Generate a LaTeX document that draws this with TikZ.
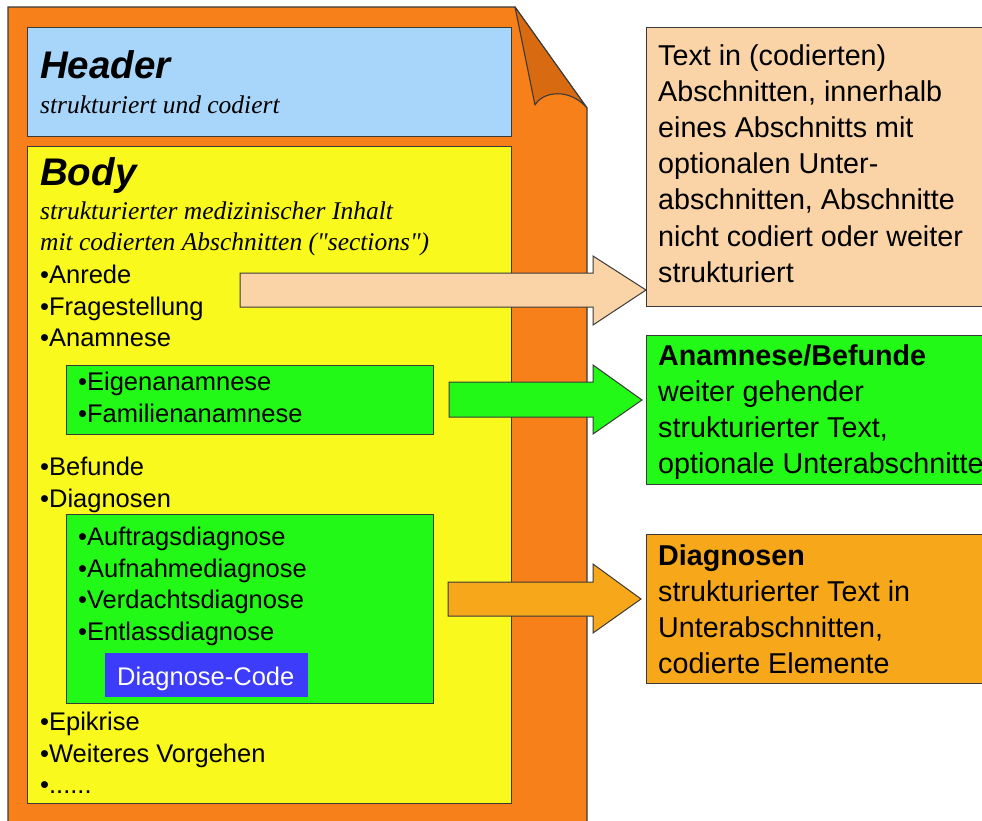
\documentclass[tikz,border=0pt]{standalone}
\usepackage{fontspec}
\setmainfont{Liberation Sans}
\newfontfamily\serifit{Liberation Serif}[UprightFont=*-Italic]
\definecolor{pageorange}{HTML}{F7801A}
\definecolor{flaporange}{HTML}{D86A12}
\definecolor{headblue}{HTML}{A8D5FA}
\definecolor{bodyyellow}{HTML}{F9F91E}
\definecolor{secgreen}{HTML}{22F916}
\definecolor{peach}{HTML}{FAD3A6}
\definecolor{diagorange}{HTML}{F7A81A}
\definecolor{codeblue}{HTML}{3C3CFA}
\definecolor{edge}{HTML}{3A3A3A}
\begin{document}
\begin{tikzpicture}[x=1pt,y=-1pt,
  outline/.style={draw=edge, line width=1.1pt},
  panel/.style={outline, anchor=north west, inner sep=0pt},
  title/.style={anchor=base west, inner sep=0pt, font=\fontsize{38.5}{42}\selectfont\bfseries\itshape},
  note/.style={anchor=base west, inner sep=0pt, font=\fontsize{25.5}{32}\selectfont\serifit},
  item/.style={anchor=base west, inner sep=0pt, font=\fontsize{25.5}{32}\selectfont},
  desc/.style={anchor=base west, inner sep=0pt, font=\fontsize{28.7}{36.2}\selectfont},
  blockarrow/.style={outline, line width=1pt, line join=miter}]
\useasboundingbox (0,0) rectangle (982,820);
\clip (0,0) rectangle (982,820);

% document page with dog-ear
\path[outline, fill=pageorange] (8,7) -- (515,7) -- (587,108) -- (587,840) -- (8,840) -- cycle;
\path[outline, fill=flaporange, line join=round] (515,7) -- (535,105)
  .. controls (543,91) and (570,88) .. (587,108) -- cycle;

% header and body sections
\node[panel, fill=headblue, minimum width=484pt, minimum height=109pt] (header) at (27,27) {};
\node[title] (headertitle) at (40,78) {Header};
\node[note] (headernote) at (40,113) {strukturiert und codiert};

\node[panel, fill=bodyyellow, minimum width=484pt, minimum height=657pt] (body) at (27,146) {};
\node[title] (bodytitle) at (40,185) {Body};
\node[note] (bodynote1) at (40,219) {strukturierter medizinischer Inhalt};
\node[note] (bodynote2) at (40,250) {mit codierten Abschnitten ("sections")};

\node[item] (anrede) at (40,283) {•Anrede};
\node[item] (frage) at (40,315) {•Fragestellung};
\node[item] (anamnese) at (40,346) {•Anamnese};

\node[panel, fill=secgreen, minimum width=367pt, minimum height=69pt] (anabox) at (66,365) {};
\node[item] (eigen) at (78,390) {•Eigenanamnese};
\node[item] (familie) at (78,422) {•Familienanamnese};

\node[item] (befunde) at (40,475) {•Befunde};
\node[item] (diagnosen) at (40,507) {•Diagnosen};

\node[panel, fill=secgreen, minimum width=367pt, minimum height=189pt] (diagbox) at (66,514) {};
\node[item] (auftrag) at (78,545) {•Auftragsdiagnose};
\node[item] (aufnahme) at (78,577) {•Aufnahmediagnose};
\node[item] (verdacht) at (78,608) {•Verdachtsdiagnose};
\node[item] (entlass) at (78,640) {•Entlassdiagnose};
\node[fill=codeblue, minimum width=203pt, minimum height=44pt, inner sep=0pt,
  anchor=north west] (code) at (105,653) {};
\node[item, text=white] (codetext) at (117,685) {Diagnose-Code};

\node[item] (epikrise) at (40,730) {•Epikrise};
\node[item] (weiteres) at (40,762) {•Weiteres Vorgehen};
\node[item] (etc) at (40,793) {•......};

% block arrows into the description boxes
\path[blockarrow, fill=peach] (240,273) -- (593,273) -- (593,256) -- (646,290)
  -- (593,325) -- (593,307) -- (240,307) -- cycle;
\path[blockarrow, fill=secgreen] (449,382) -- (593,382) -- (593,365) -- (642,400)
  -- (593,434) -- (593,417) -- (449,417) -- cycle;
\path[blockarrow, fill=diagorange] (448,582) -- (593,582) -- (593,564) -- (641,599)
  -- (593,633) -- (593,616) -- (448,616) -- cycle;

% description boxes
\node[panel, fill=peach, minimum width=360pt, minimum height=279pt] (descA) at (646,27) {};
\node[desc] (descAtext) at (658,65) {\parbox[t]{330pt}{\raggedright
  Text in (codierten)\\ Abschnitten, innerhalb\\ eines Abschnitts mit\\ optionalen Unter-\\
  abschnitten, Abschnitte\\ nicht codiert oder weiter\\ strukturiert}};

\node[panel, fill=secgreen, minimum width=360pt, minimum height=149pt] (descB) at (646,335) {};
\node[desc] (descBtext) at (658,365) {\parbox[t]{330pt}{\raggedright
  \textbf{Anamnese/Befunde}\\ weiter gehender\\ strukturierter Text,\\ optionale Unterabschnitte}};

\node[panel, fill=diagorange, minimum width=360pt, minimum height=149pt] (descC) at (646,534) {};
\node[desc] (descCtext) at (658,565) {\parbox[t]{330pt}{\raggedright
  \textbf{Diagnosen}\\ strukturierter Text in\\ Unterabschnitten,\\ codierte Elemente}};
\end{tikzpicture}
\end{document}
